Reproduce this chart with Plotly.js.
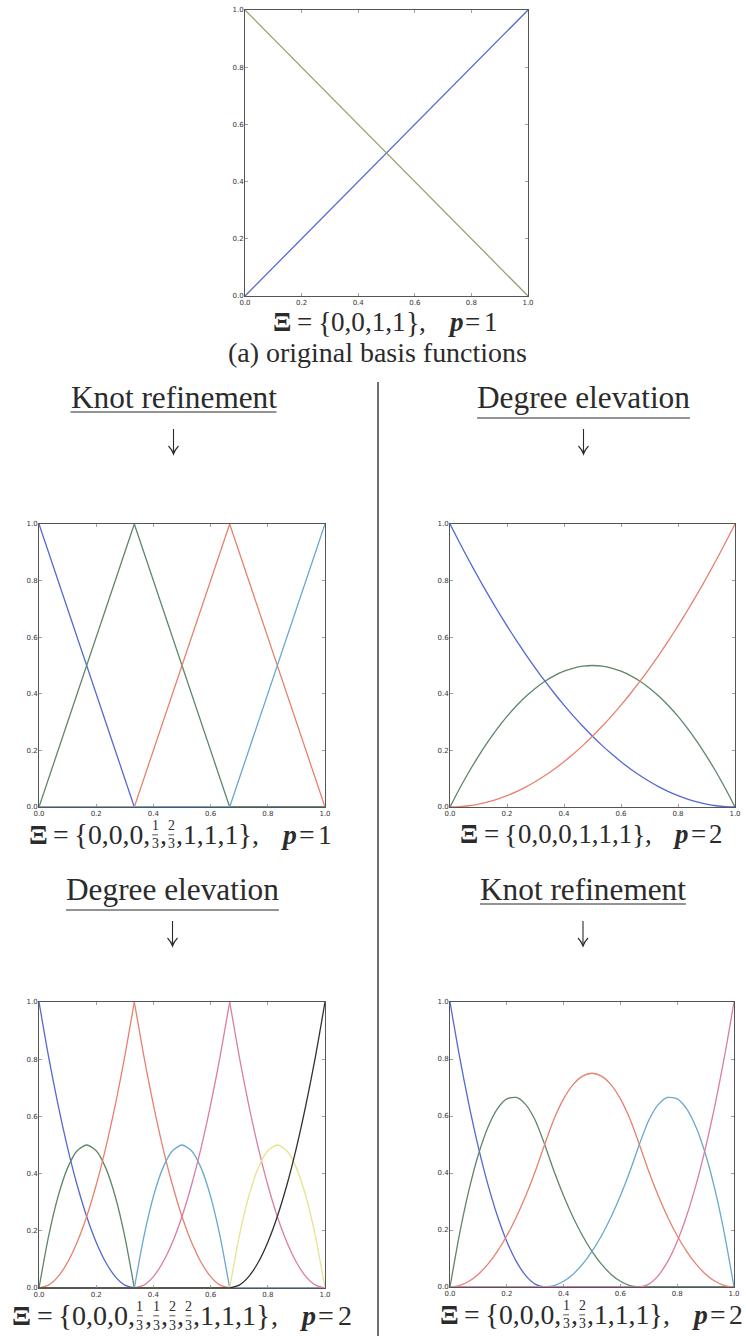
<!DOCTYPE html>
<html>
<head>
<meta charset="utf-8">
<script src="https://cdn.plot.ly/plotly-3.0.1.min.js"></script>
<style>
  html, body { margin: 0; padding: 0; background: #fff; }
  #fig { width: 746px; height: 1336px; }
</style>
</head>
<body>
<div id="fig"></div>
<script>
// ---------------------------------------------------------------
// B-spline basis functions: original, knot refined, degree elevated
// ---------------------------------------------------------------

const TICK_VALS = [0, 0.2, 0.4, 0.6, 0.8, 1.0];
const TICK_TEXT = ['0.0', '0.2', '0.4', '0.6', '0.8', '1.0'];

// parameter samples
const XI_P1 = [0, 1];
const XI_P1_REF = [0, 0.3333, 0.6667, 1];
const XI_FINE = [0, 0.0333, 0.0667, 0.1, 0.1333, 0.1667, 0.2, 0.2333, 0.2667, 0.3,
                 0.3333, 0.3667, 0.4, 0.4333, 0.4667, 0.5, 0.5333, 0.5667, 0.6, 0.6333,
                 0.6667, 0.7, 0.7333, 0.7667, 0.8, 0.8333, 0.8667, 0.9, 0.9333, 0.9667, 1];

// (a) original: Ξ = {0,0,1,1}, p = 1
const KNOTS_A = ['0', '0', '1', '1'];
const DEG_A = '1';
const A_N0 = [1, 0];
const A_N1 = [0, 1];

// knot refinement: Ξ = {0,0,0,1/3,2/3,1,1,1}, p = 1
const KNOTS_B = ['0', '0', '0', '1/3', '2/3', '1', '1', '1'];
const DEG_B = '1';
const B_N0 = [1, 0, 0, 0];
const B_N1 = [0, 1, 0, 0];
const B_N2 = [0, 0, 1, 0];
const B_N3 = [0, 0, 0, 1];

// degree elevation: Ξ = {0,0,0,1,1,1}, p = 2
const KNOTS_C = ['0', '0', '0', '1', '1', '1'];
const DEG_C = '2';
const C_N0 = [1, 0.9344, 0.8711, 0.81, 0.7511, 0.6944, 0.64, 0.5878, 0.5378, 0.49,
              0.4444, 0.4011, 0.36, 0.3211, 0.2844, 0.25, 0.2178, 0.1878, 0.16, 0.1344,
              0.1111, 0.09, 0.0711, 0.0544, 0.04, 0.0278, 0.0178, 0.01, 0.0044, 0.0011, 0];
const C_N1 = [0, 0.0644, 0.1244, 0.18, 0.2311, 0.2778, 0.32, 0.3578, 0.3911, 0.42,
              0.4444, 0.4644, 0.48, 0.4911, 0.4978, 0.5, 0.4978, 0.4911, 0.48, 0.4644,
              0.4444, 0.42, 0.3911, 0.3578, 0.32, 0.2778, 0.2311, 0.18, 0.1244, 0.0644, 0];
const C_N2 = [0, 0.0011, 0.0044, 0.01, 0.0178, 0.0278, 0.04, 0.0544, 0.0711, 0.09,
              0.1111, 0.1344, 0.16, 0.1878, 0.2178, 0.25, 0.2844, 0.3211, 0.36, 0.4011,
              0.4444, 0.49, 0.5378, 0.5878, 0.64, 0.6944, 0.7511, 0.81, 0.8711, 0.9344, 1];

// refined then elevated: Ξ = {0,0,0,1/3,1/3,2/3,2/3,1,1,1}, p = 2
const KNOTS_D = ['0', '0', '0', '1/3', '1/3', '2/3', '2/3', '1', '1', '1'];
const DEG_D = '2';
const D_N0 = [1, 0.81, 0.64, 0.49, 0.36, 0.25, 0.16, 0.09, 0.04, 0.01,
              0, 0, 0, 0, 0, 0, 0, 0, 0, 0,
              0, 0, 0, 0, 0, 0, 0, 0, 0, 0, 0];
const D_N1 = [0, 0.18, 0.32, 0.42, 0.48, 0.5, 0.48, 0.42, 0.32, 0.18,
              0, 0, 0, 0, 0, 0, 0, 0, 0, 0,
              0, 0, 0, 0, 0, 0, 0, 0, 0, 0, 0];
const D_N2 = [0, 0.01, 0.04, 0.09, 0.16, 0.25, 0.36, 0.49, 0.64, 0.81,
              1, 0.81, 0.64, 0.49, 0.36, 0.25, 0.16, 0.09, 0.04, 0.01,
              0, 0, 0, 0, 0, 0, 0, 0, 0, 0, 0];
const D_N3 = [0, 0, 0, 0, 0, 0, 0, 0, 0, 0,
              0, 0.18, 0.32, 0.42, 0.48, 0.5, 0.48, 0.42, 0.32, 0.18,
              0, 0, 0, 0, 0, 0, 0, 0, 0, 0, 0];
const D_N4 = [0, 0, 0, 0, 0, 0, 0, 0, 0, 0,
              0, 0.01, 0.04, 0.09, 0.16, 0.25, 0.36, 0.49, 0.64, 0.81,
              1, 0.81, 0.64, 0.49, 0.36, 0.25, 0.16, 0.09, 0.04, 0.01, 0];
const D_N5 = [0, 0, 0, 0, 0, 0, 0, 0, 0, 0,
              0, 0, 0, 0, 0, 0, 0, 0, 0, 0,
              0, 0.18, 0.32, 0.42, 0.48, 0.5, 0.48, 0.42, 0.32, 0.18, 0];
const D_N6 = [0, 0, 0, 0, 0, 0, 0, 0, 0, 0,
              0, 0, 0, 0, 0, 0, 0, 0, 0, 0,
              0, 0.01, 0.04, 0.09, 0.16, 0.25, 0.36, 0.49, 0.64, 0.81, 1];
// sample indices of the interior knots 1/3 and 2/3 (where D has kinks)
const D_BREAKS = [0, 10, 20, 30];

// elevated then refined: Ξ = {0,0,0,1/3,2/3,1,1,1}, p = 2
const KNOTS_E = ['0', '0', '0', '1/3', '2/3', '1', '1', '1'];
const DEG_E = '2';
const E_N0 = [1, 0.81, 0.64, 0.49, 0.36, 0.25, 0.16, 0.09, 0.04, 0.01,
              0, 0, 0, 0, 0, 0, 0, 0, 0, 0,
              0, 0, 0, 0, 0, 0, 0, 0, 0, 0, 0];
const E_N1 = [0, 0.185, 0.34, 0.465, 0.56, 0.625, 0.66, 0.665, 0.64, 0.585,
              0.5, 0.405, 0.32, 0.245, 0.18, 0.125, 0.08, 0.045, 0.02, 0.005,
              0, 0, 0, 0, 0, 0, 0, 0, 0, 0, 0];
const E_N2 = [0, 0.005, 0.02, 0.045, 0.08, 0.125, 0.18, 0.245, 0.32, 0.405,
              0.5, 0.59, 0.66, 0.71, 0.74, 0.75, 0.74, 0.71, 0.66, 0.59,
              0.5, 0.405, 0.32, 0.245, 0.18, 0.125, 0.08, 0.045, 0.02, 0.005, 0];
const E_N3 = [0, 0, 0, 0, 0, 0, 0, 0, 0, 0,
              0, 0.005, 0.02, 0.045, 0.08, 0.125, 0.18, 0.245, 0.32, 0.405,
              0.5, 0.585, 0.64, 0.665, 0.66, 0.625, 0.56, 0.465, 0.34, 0.185, 0];
const E_N4 = [0, 0, 0, 0, 0, 0, 0, 0, 0, 0,
              0, 0, 0, 0, 0, 0, 0, 0, 0, 0,
              0, 0.01, 0.04, 0.09, 0.16, 0.25, 0.36, 0.49, 0.64, 0.81, 1];

const SECTION_LABELS = ['Knot refinement', 'Degree elevation', 'Degree elevation', 'Knot refinement'];
const CAPTION = '(a) original basis functions';

// ---------------------------------------------------------------
// styling / layout helpers
// ---------------------------------------------------------------
const W = 746, H = 1336;
const PX = v => v / W;          // pixel x -> paper
const PY = v => 1 - v / H;      // pixel y -> paper
const SERIF_NAME = 'Liberation Serif';
const SERIF = '"Liberation Serif", "DejaVu Serif", serif';
const INK = '#2b2b2b';

const COL = {
  b: '#5468d0', g: '#5f8668', olive: '#95a46c', r: '#e8806e',
  c: '#68a9cc', m: '#db7ca3', y: '#e6e48e', k: '#303030'
};

const cv = document.createElement('canvas');
const ctx = cv.getContext('2d');
function textWidth(t, size, bold, italic) {
  ctx.font = (italic ? 'italic ' : '') + (bold ? 'bold ' : '') + size + 'px "' + SERIF_NAME + '", serif';
  return ctx.measureText(t).width;
}

const annotations = [];
const shapes = [];

function addText(t, xLeft, yMid, size, bold, italic, anchor) {
  let s = t;
  if (italic) s = '<i>' + s + '</i>';
  if (bold) s = '<b>' + s + '</b>';
  annotations.push({
    text: s, xref: 'paper', yref: 'paper', x: PX(xLeft), y: PY(yMid),
    xanchor: anchor || 'left', yanchor: 'middle', showarrow: false,
    borderpad: 0, borderwidth: 0,
    font: { family: SERIF, size: size, color: INK }
  });
}

function addLine(x0, y0, x1, y1, w, color) {
  shapes.push({ type: 'line', xref: 'paper', yref: 'paper',
    x0: PX(x0), y0: PY(y0), x1: PX(x1), y1: PY(y1),
    line: { color: color || INK, width: w || 1 } });
}

// Ξ = {knots},  p = deg  built from runs of text and stacked fractions
function formula(knots, deg, xL, xR, yMid, braceScale) {
  const parts = [];
  parts.push({ t: 'Ξ', b: true });
  parts.push({ gap: 0.2 });
  parts.push({ t: '=' });
  parts.push({ gap: 0.2 });
  parts.push({ t: '{', k: braceScale });
  let run = '';
  knots.forEach((kv, i) => {
    const sep = i < knots.length - 1 ? ',' : '';
    if (kv.indexOf('/') >= 0) {
      if (run) { parts.push({ t: run }); run = ''; }
      const [n, d] = kv.split('/');
      parts.push({ num: n, den: d });
      run = sep;
    } else {
      run += kv + sep;
    }
  });
  if (run) parts.push({ t: run });
  parts.push({ t: '}', k: braceScale });
  parts.push({ t: ',' });
  parts.push({ gap: 0.8 });
  parts.push({ t: 'p', b: true, i: true });
  parts.push({ gap: 0.14 });
  parts.push({ t: '=' });
  parts.push({ gap: 0.14 });
  parts.push({ t: deg });

  const widthAt = (p, s) => {
    if (p.gap) return p.gap * s;
    if (p.num) return Math.max(textWidth(p.num, s * 0.5), textWidth(p.den, s * 0.5)) + 0.08 * s;
    return textWidth(p.t, s * (p.k || 1), p.b, p.i);
  };
  const base = 100;
  const total = parts.reduce((a, p) => a + widthAt(p, base), 0);
  const s = base * (xR - xL) / total;
  let x = xL;
  parts.forEach(p => {
    const w = widthAt(p, s);
    if (p.num) {
      const cx = x + w / 2;
      addText(p.num, cx, yMid - 0.31 * s, s * 0.5, false, false, 'center');
      addText(p.den, cx, yMid + 0.36 * s, s * 0.5, false, false, 'center');
      addLine(x + 0.06 * s, yMid + 0.03 * s, x + w - 0.06 * s, yMid + 0.03 * s, 0.8);
    } else if (!p.gap) {
      const k = p.k || 1;
      addText(p.t, x, yMid + (k - 1) * 0.1 * s, s * k, p.b, p.i);
    }
    x += w;
  });
}

// section heading, underlined, with a downward arrow below
function heading(label, cx, baseline, size) {
  const w = textWidth(label, size);
  addText(label, cx, baseline - 0.3375 * size, size, false, false, 'center');
  const ul = baseline + (/[gjpqy]/.test(label) ? 10 : 4);
  addLine(cx - w / 2, ul, cx + w / 2, ul, 1.1);
  const top = baseline + 21, bot = baseline + 46;
  addLine(cx, top, cx, bot, 1.1);
  shapes.push({ type: 'path', xref: 'paper', yref: 'paper',
    path: 'M' + PX(cx - 5) + ',' + PY(bot - 8) +
          ' Q' + PX(cx - 1.2) + ',' + PY(bot - 4) + ' ' + PX(cx) + ',' + PY(bot) +
          ' Q' + PX(cx + 1.2) + ',' + PY(bot - 4) + ' ' + PX(cx + 5) + ',' + PY(bot - 8),
    line: { color: INK, width: 1.1 } });
}

// ---------------------------------------------------------------
// axes
// ---------------------------------------------------------------
const BOXES = [
  [245, 528, 10, 296],     // (a)
  [39, 325, 524, 807],     // knot refinement
  [450, 735, 524, 807],    // degree elevation
  [39, 325, 1002, 1288],   // refinement + elevation
  [450, 734, 1002, 1287]   // elevation + refinement
];

const layout = {
  width: W, height: H, margin: { l: 0, r: 0, t: 0, b: 0 },
  paper_bgcolor: '#fff', plot_bgcolor: '#fff', showlegend: false,
  annotations: annotations, shapes: shapes
};

BOXES.forEach((bx, i) => {
  const n = i === 0 ? '' : String(i + 1);
  const common = {
    range: [0, 1], autorange: false, showgrid: false, zeroline: false,
    showline: true, linecolor: '#555', linewidth: 1, mirror: 'allticks',
    ticks: 'inside', ticklen: 3, tickwidth: 0.8, tickcolor: '#888',
    tickmode: 'array', tickvals: TICK_VALS, ticktext: TICK_TEXT,
    tickfont: { family: 'DejaVu Sans', size: 7, color: '#333' },
    fixedrange: true
  };
  layout['xaxis' + n] = Object.assign({}, common, {
    domain: [PX(bx[0]), PX(bx[1])], anchor: 'y' + n
  });
  layout['yaxis' + n] = Object.assign({}, common, {
    domain: [PY(bx[3]), PY(bx[2])], anchor: 'x' + n, ticklabelstandoff: -1
  });
});

// ---------------------------------------------------------------
// traces
// ---------------------------------------------------------------
function curve(ax, x, y, color, smooth) {
  return {
    type: 'scatter', mode: 'lines', x: x, y: y,
    xaxis: 'x' + ax, yaxis: 'y' + ax,
    line: { color: color, width: 1.3, shape: smooth ? 'spline' : 'linear', smoothing: 0.7 },
    hoverinfo: 'skip', showlegend: false
  };
}

// C0 at the doubled knots: smooth each knot span on its own
function piecewise(ax, x, y, color, breaks) {
  const out = [];
  for (let j = 0; j < breaks.length - 1; j++) {
    const a = breaks[j], b = breaks[j + 1] + 1;
    out.push(curve(ax, x.slice(a, b), y.slice(a, b), color, true));
  }
  return out;
}

const data = [
  curve('', XI_P1, A_N1, COL.b),
  curve('', XI_P1, A_N0, COL.olive),

  curve('2', XI_P1_REF, B_N0, COL.b),
  curve('2', XI_P1_REF, B_N1, COL.g),
  curve('2', XI_P1_REF, B_N2, COL.r),
  curve('2', XI_P1_REF, B_N3, COL.c),

  curve('3', XI_FINE, C_N0, COL.b, true),
  curve('3', XI_FINE, C_N1, COL.g, true),
  curve('3', XI_FINE, C_N2, COL.r, true),

  ...piecewise('4', XI_FINE, D_N0, COL.b, D_BREAKS),
  ...piecewise('4', XI_FINE, D_N1, COL.g, D_BREAKS),
  ...piecewise('4', XI_FINE, D_N2, COL.r, D_BREAKS),
  ...piecewise('4', XI_FINE, D_N3, COL.c, D_BREAKS),
  ...piecewise('4', XI_FINE, D_N4, COL.m, D_BREAKS),
  ...piecewise('4', XI_FINE, D_N5, COL.y, D_BREAKS),
  ...piecewise('4', XI_FINE, D_N6, COL.k, D_BREAKS),

  curve('5', XI_FINE, E_N0, COL.b, true),
  curve('5', XI_FINE, E_N1, COL.g, true),
  curve('5', XI_FINE, E_N2, COL.r, true),
  curve('5', XI_FINE, E_N3, COL.c, true),
  curve('5', XI_FINE, E_N4, COL.m, true)
];

// ---------------------------------------------------------------
// text, headings, separator
// ---------------------------------------------------------------
formula(KNOTS_A, DEG_A, 273, 498, 322, 1.05);
formula(KNOTS_B, DEG_B, 29, 332, 834, 1.05);
formula(KNOTS_C, DEG_C, 460, 723, 834, 1.05);
formula(KNOTS_D, DEG_D, 12, 352, 1315, 1.05);
formula(KNOTS_E, DEG_E, 440, 743, 1314, 1.05);

const capSize = 299 / textWidth(CAPTION, 1);
addText(CAPTION, 377.5, 362 - 0.3375 * capSize, capSize, false, false, 'center');

const headSize = 213 / textWidth('Degree elevation', 1);
heading(SECTION_LABELS[0], 173.5, 408, headSize);
heading(SECTION_LABELS[1], 583.5, 408, headSize);
heading(SECTION_LABELS[2], 172.5, 900, headSize);
heading(SECTION_LABELS[3], 583, 900, headSize);

addLine(378, 382, 378, 1336, 1.4, '#333');

Plotly.newPlot('fig', data, layout, { staticPlot: true, displayModeBar: false });
</script>
</body>
</html>
